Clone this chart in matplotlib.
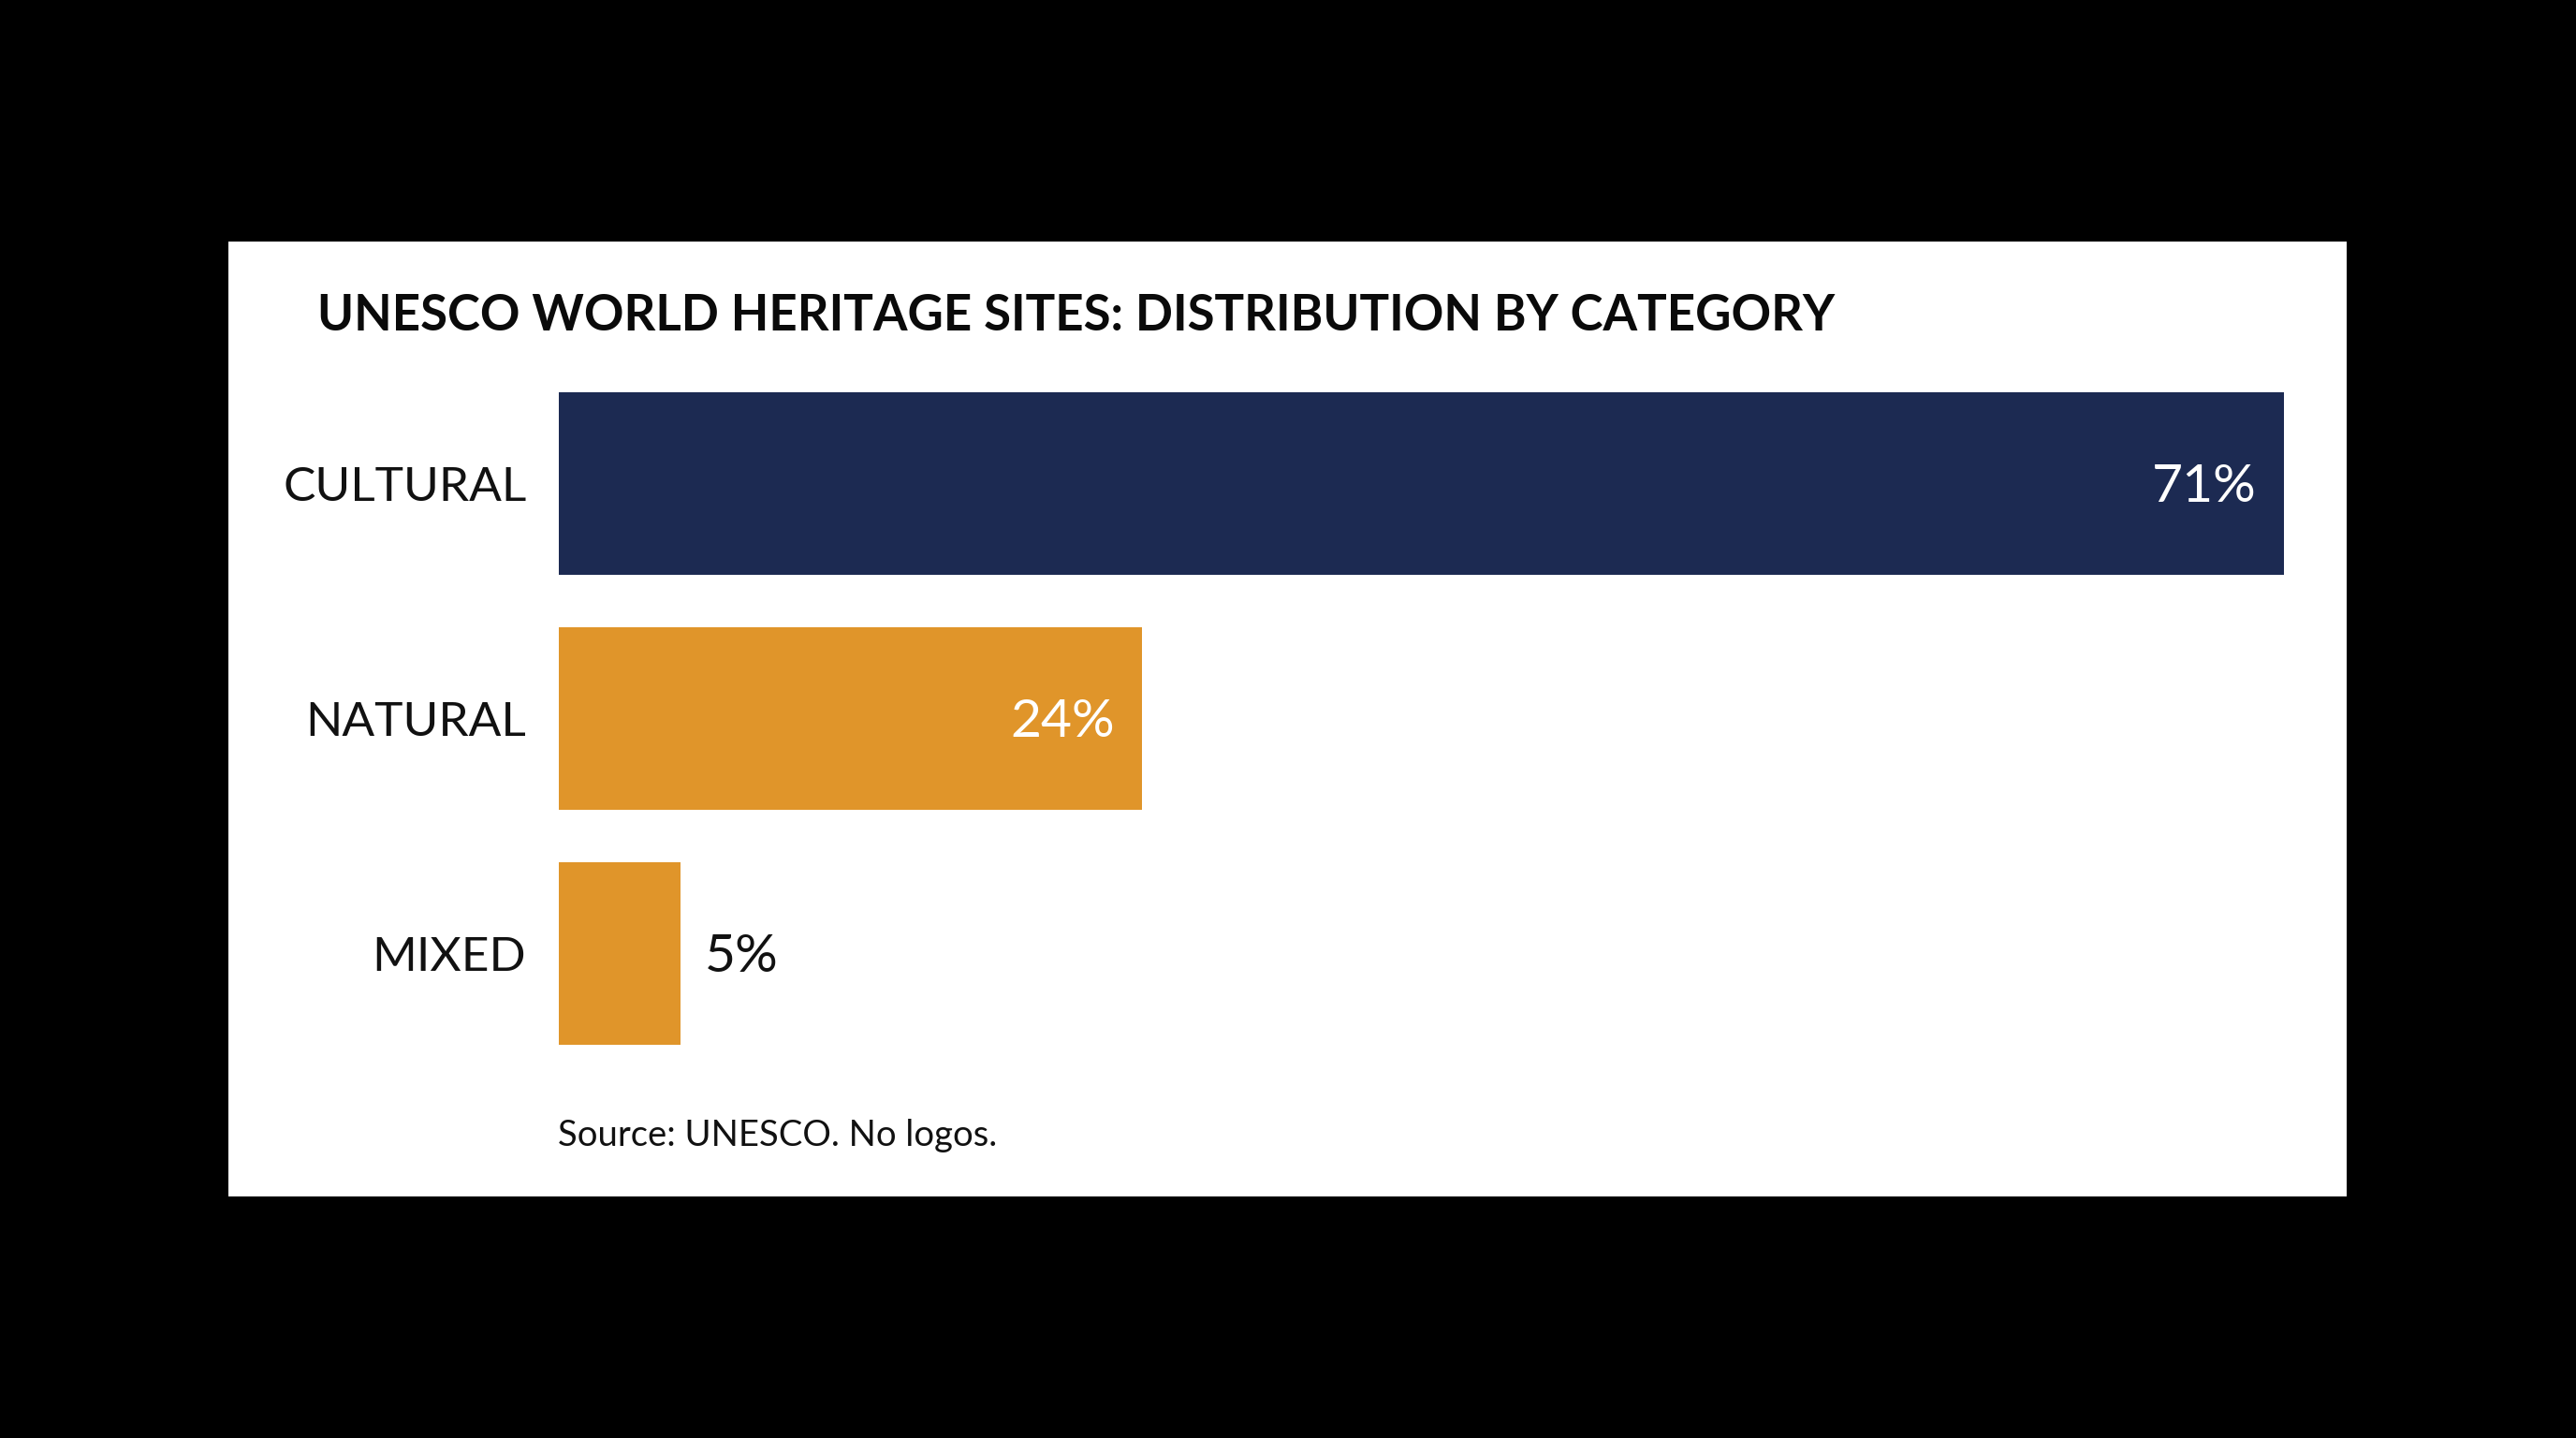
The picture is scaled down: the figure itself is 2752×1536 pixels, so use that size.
"""UNESCO World Heritage Sites - share by category (horizontal bars)."""
import matplotlib.pyplot as plt
from matplotlib.patches import Rectangle

# data
categories = ["CULTURAL", "NATURAL", "MIXED"]
shares = [71, 24, 5]
value_labels = ["71%", "24%", "5%"]

NAVY = "#1c2a52"
ORANGE = "#e0952a"
bar_colors = [NAVY, ORANGE, ORANGE]

plt.rcParams["font.family"] = ["Lato", "DejaVu Sans"]

W, H = 2752, 1536
fig = plt.figure(figsize=(W / 100, H / 100), dpi=100, facecolor="black")

# white card behind everything
fig.patches.append(Rectangle((244 / W, 1 - 1278 / H), (2507 - 244) / W, (1278 - 258) / H,
                             transform=fig.transFigure, facecolor="white",
                             edgecolor="none", zorder=-5))

# axes placed so that the bars line up with the card
ax = fig.add_axes([597 / W, 1 - 1144 / H, (2440 - 597) / W, (1144 - 391) / H])
ax.set_zorder(3)
ax.set_facecolor("none")

ypos = list(range(len(categories)))
ax.barh(ypos, shares, height=0.777, color=bar_colors)
ax.set_xlim(0, max(shares))
ax.set_ylim(len(categories) - 0.5, -0.5)

ax.set_yticks(ypos)
ax.set_yticklabels(categories, fontsize=37, color="#111111")
ax.tick_params(axis="y", length=0, pad=25)
ax.set_xticks([])
for s in ax.spines.values():
    s.set_visible(False)

# value labels: inside the long bars, outside the short one
for y, v, lab in zip(ypos, shares, value_labels):
    if v >= 15:
        ax.annotate(lab, (v, y), xytext=(-21, -3), textcoords="offset points",
                    ha="right", va="center", fontsize=41, color="white")
    else:
        ax.annotate(lab, (v, y), xytext=(19, -3), textcoords="offset points",
                    ha="left", va="center", fontsize=41, color="#111111")

fig.text(339 / W, 1 - 353 / H, "UNESCO WORLD HERITAGE SITES: DISTRIBUTION BY CATEGORY",
         fontsize=38, fontweight="bold", color="#0a0a0a", va="baseline", ha="left")
fig.text(596 / W, 1 - 1224 / H, "Source: UNESCO. No logos.",
         fontsize=27.5, color="#111111", va="baseline", ha="left")

fig.savefig("out.png", dpi=100, facecolor="black")
